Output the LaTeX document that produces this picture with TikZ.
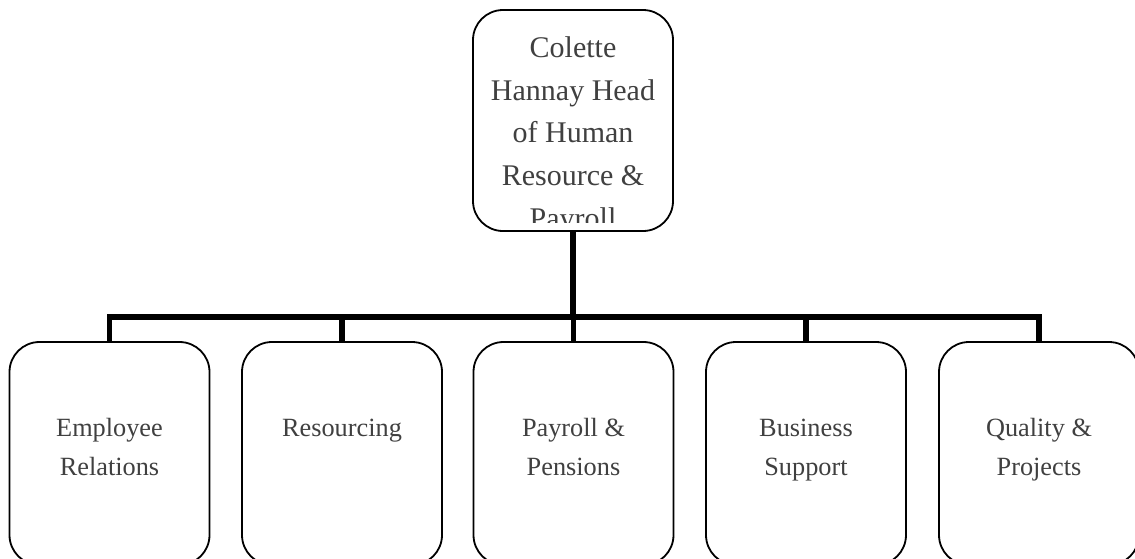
\documentclass[tikz,border=0pt]{standalone}
\usepackage{fontspec}
\setmainfont{Liberation Serif}
\definecolor{txtgray}{HTML}{404040}
\begin{document}
\begin{tikzpicture}[x=1pt,y=-1pt,
  box/.style={draw=black,line width=1.8pt,rounded corners=30pt,minimum width=200pt,inner sep=0pt,fill=white},
  conn/.style={draw=black,line width=5.8pt},
  headtxt/.style={text=txtgray,font=\fontsize{30}{43}\selectfont,align=center,inner sep=0pt,anchor=base},
  subtxt/.style={text=txtgray,font=\fontsize{26.3}{39.5}\selectfont,align=center,inner sep=0pt,anchor=base}]
\useasboundingbox (0,0) rectangle (1135,558);
\clip (0,0) rectangle (1135,558);
% top box
\node[box,minimum height=221pt] (head) at (573,120.5) {};
\begin{scope}
  \clip (474,11) rectangle (672,222);
  \node[headtxt] (headt1) at (573,57) {Colette};
  \node[headtxt] (headt2) at (573,100) {Hannay Head};
  \node[headtxt] (headt3) at (573,142.5) {of Human};
  \node[headtxt] (headt4) at (573,185.5) {Resource \&};
  \node[headtxt] (headt5) at (573,228.5) {Payroll};
\end{scope}
% bottom boxes
\node[box,minimum height=223pt] (b1) at (109.5,453.5) {};
\node[box,minimum height=223pt] (b2) at (342,453.5) {};
\node[box,minimum height=223pt] (b3) at (573.5,453.5) {};
\node[box,minimum height=223pt] (b4) at (806,453.5) {};
\node[box,minimum height=223pt] (b5) at (1039,453.5) {};
\node[subtxt] (t1a) at (b1 |- 0,436) {Employee};
\node[subtxt] (t1b) at (b1 |- 0,475.5) {Relations};
\node[subtxt] (t2a) at (b2 |- 0,436) {Resourcing};
\node[subtxt] (t3a) at (b3 |- 0,436) {Payroll \&};
\node[subtxt] (t3b) at (b3 |- 0,475.5) {Pensions};
\node[subtxt] (t4a) at (b4 |- 0,436) {Business};
\node[subtxt] (t4b) at (b4 |- 0,475.5) {Support};
\node[subtxt] (t5a) at (b5 |- 0,436) {Quality \&};
\node[subtxt] (t5b) at (b5 |- 0,475.5) {Projects};
% connectors
\coordinate (bus) at (573,317);
\draw[conn] (head.south) -- (bus);
\draw[conn,line join=miter] (b1.north) -- (b1.north |- bus) -- (b5.north |- bus) -- (b5.north);
\draw[conn] (b2.north |- bus) -- (b2.north);
\draw[conn] (b3.north |- bus) -- (b3.north);
\draw[conn] (b4.north |- bus) -- (b4.north);
\end{tikzpicture}
\end{document}
